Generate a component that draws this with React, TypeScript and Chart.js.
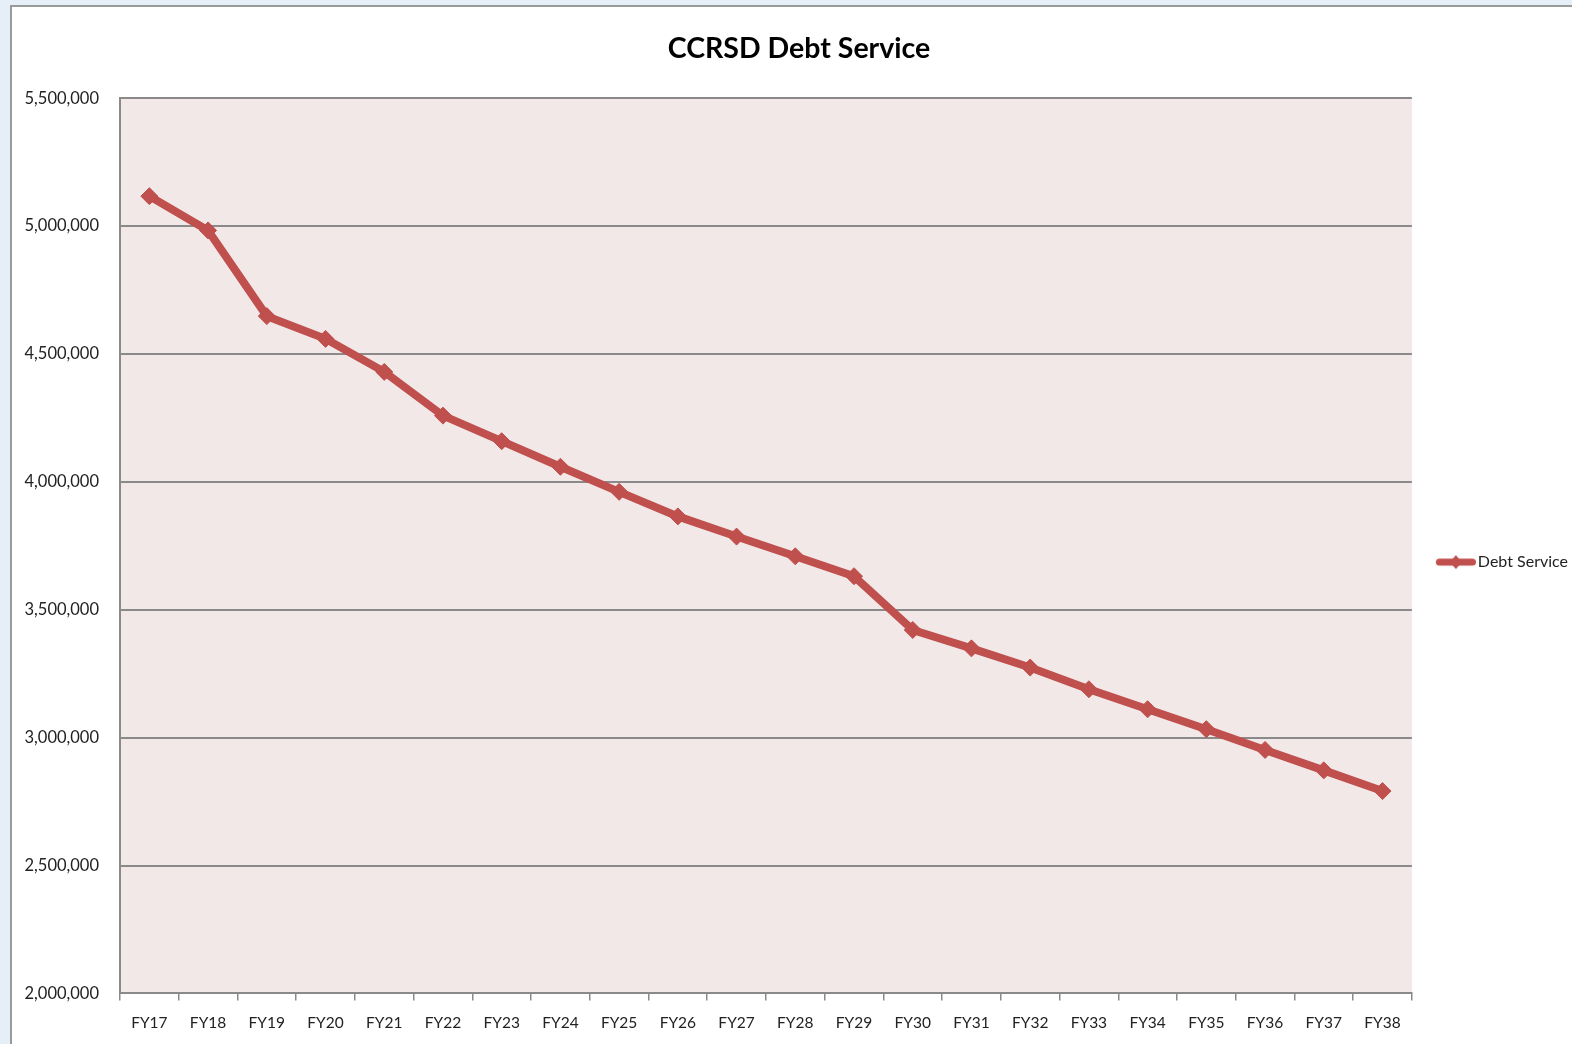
import React, { useEffect, useRef } from "react";
import { Chart, registerables } from "chart.js";
Chart.register(...registerables);

const categories = [
  "FY17", "FY18", "FY19", "FY20", "FY21", "FY22", "FY23", "FY24", "FY25", "FY26", "FY27",
  "FY28", "FY29", "FY30", "FY31", "FY32", "FY33", "FY34", "FY35", "FY36", "FY37", "FY38",
];
const debtService = [
  5117000, 4983000, 4648000, 4559000, 4430000, 4259000, 4159000, 4059000, 3961000, 3865000, 3786000,
  3709000, 3631000, 3421000, 3349000, 3274000, 3189000, 3111000, 3033000, 2952000, 2872000, 2791000,
];
const yMin = 2000000;
const yMax = 5500000;
const yStep = 500000;

const LINE = "#C0504D";
const FONT = "Lato, 'Open Sans', sans-serif";

function legendIcon(): HTMLCanvasElement {
  const c = document.createElement("canvas");
  c.width = 68;
  c.height = 18;
  const ctx = c.getContext("2d")!;
  ctx.strokeStyle = LINE;
  ctx.lineWidth = 7;
  ctx.lineCap = "round";
  ctx.beginPath();
  ctx.moveTo(31.5, 9);
  ctx.lineTo(64.5, 9);
  ctx.stroke();
  ctx.fillStyle = LINE;
  ctx.beginPath();
  ctx.moveTo(48, 2);
  ctx.lineTo(54, 9);
  ctx.lineTo(48, 16);
  ctx.lineTo(42, 9);
  ctx.closePath();
  ctx.fill();
  return c;
}

const plotBg = {
  id: "plotBg",
  beforeDraw(chart: any) {
    const { ctx, chartArea } = chart;
    ctx.save();
    ctx.fillStyle = "#F2E8E8";
    ctx.fillRect(chartArea.left, chartArea.top, chartArea.right - chartArea.left, chartArea.bottom - chartArea.top);
    ctx.restore();
  },
};

export default function App() {
  const ref = useRef<HTMLCanvasElement | null>(null);
  useEffect(() => {
    document.body.style.margin = "0";
    const icon = legendIcon();
    const chart = new Chart(ref.current!, {
      type: "line",
      data: {
        labels: categories,
        datasets: [
          {
            label: "Debt Service",
            data: debtService,
            borderColor: LINE,
            backgroundColor: LINE,
            borderWidth: 8,
            pointStyle: "rectRot",
            pointRadius: 8.5,
            pointBackgroundColor: LINE,
            pointBorderColor: LINE,
            pointBorderWidth: 1,
            tension: 0,
          },
        ],
      },
      options: {
        animation: false,
        responsive: true,
        maintainAspectRatio: false,
        layout: { padding: { left: 8, top: 8, right: 4, bottom: 9 } },
        plugins: {
          title: {
            display: true,
            text: "CCRSD Debt Service",
            color: "#000",
            font: { family: FONT, size: 28.5, weight: "bold" },
            padding: { top: 17, bottom: 32 },
          },
          legend: {
            position: "right",
            title: {
              display: true,
              text: " ",
              font: { family: FONT, size: 16 },
              padding: { top: 45, bottom: 0 },
            },
            labels: {
              usePointStyle: true,
              pointStyleWidth: 56,
              color: "#222",
              font: { family: FONT, size: 16 },
              padding: 2,
              generateLabels: () => [
                {
                  text: "Debt Service",
                  pointStyle: icon,
                  fillStyle: LINE,
                  strokeStyle: LINE,
                  lineWidth: 0,
                  hidden: false,
                  datasetIndex: 0,
                  fontColor: "#222",
                },
              ],
            },
          },
          tooltip: { enabled: false },
        },
        scales: {
          x: {
            offset: true,
            grid: {
              offset: true,
              drawOnChartArea: false,
              drawTicks: true,
              tickLength: 7,
              color: "#8a8a8a",
              lineWidth: 1.5,
            },
            border: { color: "#8a8a8a", width: 2 },
            ticks: {
              color: "#222",
              font: { family: FONT, size: 15.5 },
              padding: 13,
              maxRotation: 0,
              autoSkip: false,
            },
          },
          y: {
            min: yMin,
            max: yMax,
            afterFit: (scale: any) => {
              scale.width = 100;
            },
            grid: {
              color: "#8a8a8a",
              lineWidth: 2,
              drawTicks: false,
              tickLength: 0,
            },
            border: { color: "#8a8a8a", width: 2 },
            ticks: {
              stepSize: yStep,
              color: "#222",
              font: { family: FONT, size: 16.5 },
              padding: 21,
              callback: (v: any) => Number(v).toLocaleString("en-US"),
            },
          },
        },
      },
      plugins: [plotBg],
    });
    return () => chart.destroy();
  }, []);

  return (
    <div style={{ position: "relative", width: 1572, height: 1044, background: "#E6EEF8", overflow: "hidden" }}>
      <div
        style={{
          position: "absolute",
          left: 10,
          top: 5,
          width: 1572,
          height: 1049,
          background: "#fff",
          borderLeft: "2px solid #9a9a9a",
          borderTop: "2px solid #9a9a9a",
          boxSizing: "border-box",
        }}
      >
        <div style={{ position: "absolute", left: 0, top: 0, width: 1570, height: 1047 }}>
          <canvas ref={ref} />
        </div>
      </div>
    </div>
  );
}
